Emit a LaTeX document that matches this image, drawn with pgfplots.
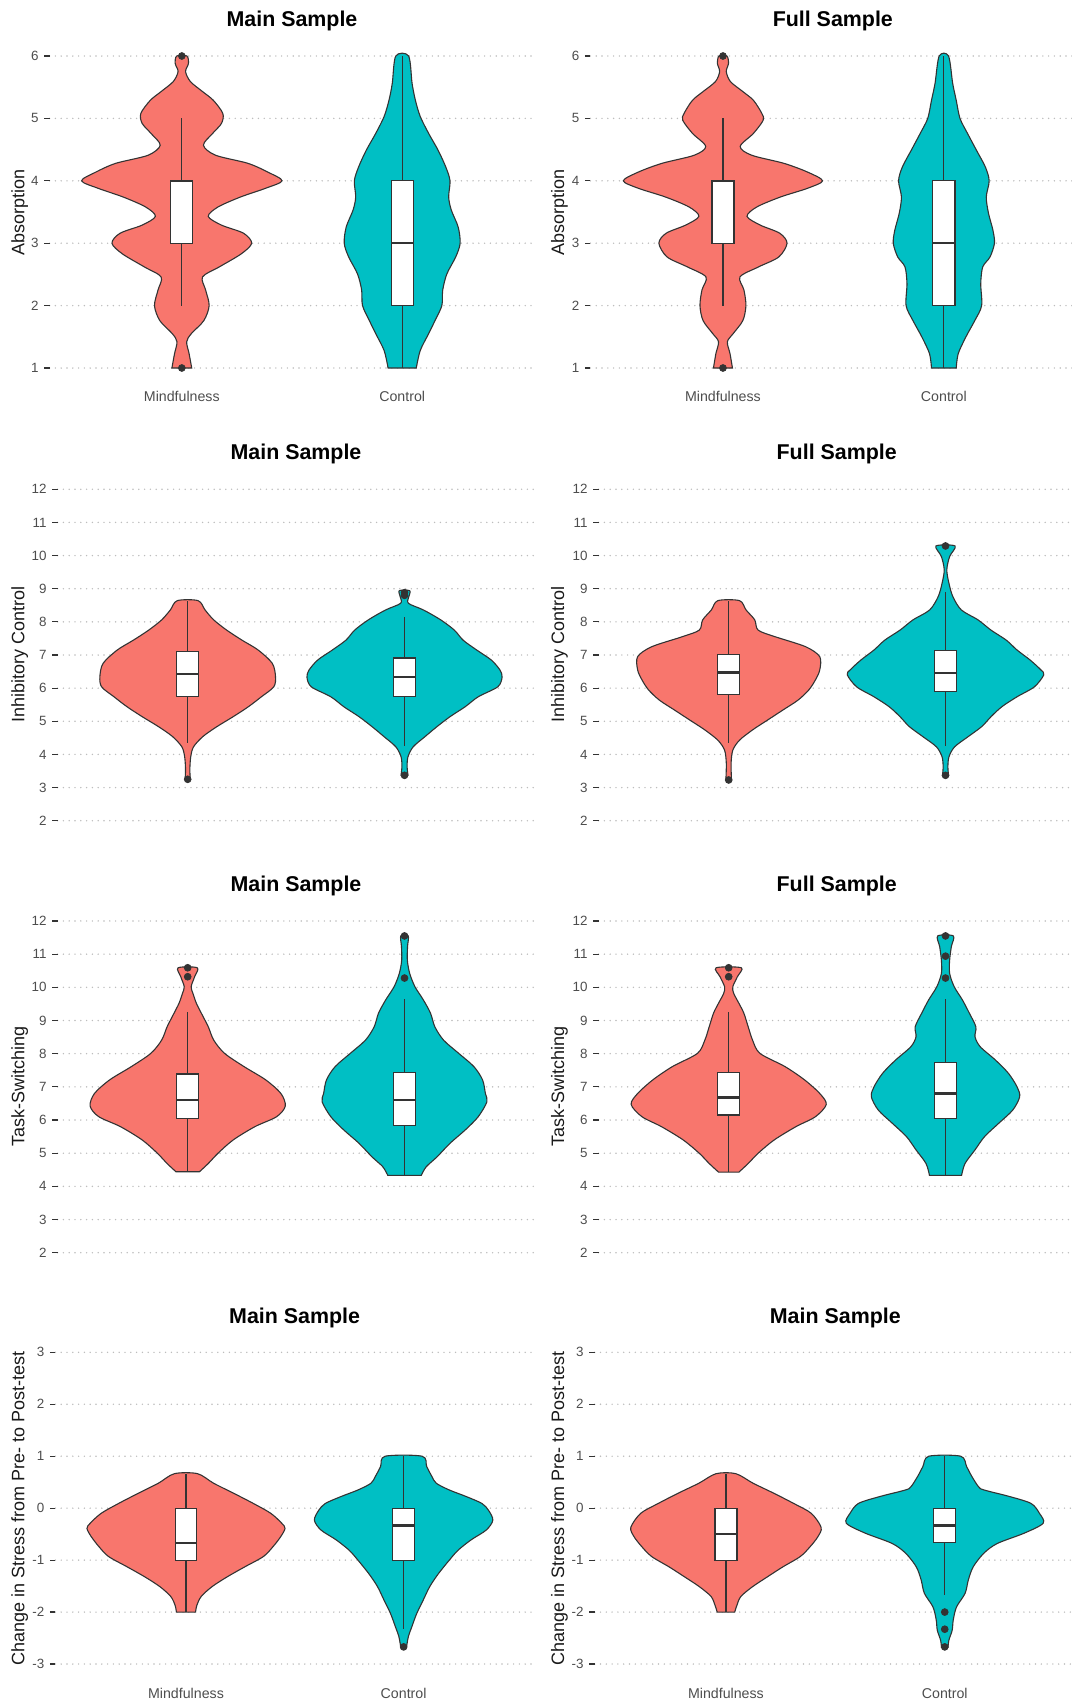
\documentclass[border=0pt]{standalone}
\usepackage{fontspec}
\setmainfont{Liberation Sans}
\usepackage{pgfplots}
\pgfplotsset{compat=1.18}
\usepackage{pgfplotstable}

\definecolor{salmon}{HTML}{F8766D}
\definecolor{tealc}{HTML}{00BFC4}
\definecolor{dark}{HTML}{333333}
\definecolor{gridc}{HTML}{BDBDBD}
\definecolor{tickc}{HTML}{4D4D4D}

% violin outlines: y, signed half-width (right side up, left side down)
\pgfplotstableread{
y s
1.00 0.045
1.23 0.033
1.42 0.022
1.55 0.043
1.76 0.100
2.00 0.124
2.25 0.108
2.46 0.094
2.62 0.170
2.83 0.270
3.00 0.317
3.16 0.280
3.29 0.180
3.43 0.120
3.58 0.164
3.74 0.266
3.88 0.380
4.00 0.455
4.14 0.390
4.28 0.300
4.41 0.153
4.57 0.098
4.76 0.140
4.92 0.180
5.08 0.186
5.29 0.143
5.43 0.094
5.59 0.039
5.75 0.017
5.88 0.030
6.00 0.023
6.00 -0.023
5.88 -0.030
5.75 -0.017
5.59 -0.039
5.43 -0.094
5.29 -0.143
5.08 -0.186
4.92 -0.180
4.76 -0.140
4.57 -0.098
4.41 -0.153
4.28 -0.300
4.14 -0.390
4.00 -0.455
3.88 -0.380
3.74 -0.266
3.58 -0.164
3.43 -0.120
3.29 -0.180
3.16 -0.280
3.00 -0.317
2.83 -0.270
2.62 -0.170
2.46 -0.094
2.25 -0.108
2.00 -0.124
1.76 -0.100
1.55 -0.043
1.42 -0.022
1.23 -0.033
1.00 -0.045
}\PaM
\pgfplotstableread{
y s
1.00 0.064
1.28 0.082
1.55 0.120
1.76 0.149
2.00 0.180
2.25 0.184
2.51 0.203
2.78 0.243
3.00 0.263
3.26 0.254
3.53 0.223
3.74 0.211
4.00 0.217
4.22 0.198
4.49 0.163
4.76 0.120
5.03 0.082
5.29 0.060
5.56 0.045
6.00 0.029
6.00 -0.029
5.56 -0.045
5.29 -0.060
5.03 -0.082
4.76 -0.120
4.49 -0.163
4.22 -0.198
4.00 -0.217
3.74 -0.211
3.53 -0.223
3.26 -0.254
3.00 -0.263
2.78 -0.243
2.51 -0.203
2.25 -0.184
2.00 -0.180
1.76 -0.149
1.55 -0.120
1.28 -0.082
1.00 -0.064
}\PaC
\pgfplotstableread{
y s
1.00 0.043
1.23 0.032
1.42 0.020
1.55 0.046
1.76 0.090
2.00 0.104
2.25 0.095
2.46 0.077
2.62 0.161
2.78 0.253
3.00 0.290
3.16 0.257
3.29 0.169
3.43 0.109
3.58 0.153
3.74 0.260
3.88 0.383
4.00 0.451
4.14 0.383
4.28 0.276
4.41 0.130
4.55 0.078
4.76 0.138
4.97 0.182
5.08 0.176
5.29 0.138
5.43 0.090
5.59 0.034
5.75 0.015
5.88 0.025
6.00 0.018
6.00 -0.018
5.88 -0.025
5.75 -0.015
5.59 -0.034
5.43 -0.090
5.29 -0.138
5.08 -0.176
4.97 -0.182
4.76 -0.138
4.55 -0.078
4.41 -0.130
4.28 -0.276
4.14 -0.383
4.00 -0.451
3.88 -0.383
3.74 -0.260
3.58 -0.153
3.43 -0.109
3.29 -0.169
3.16 -0.257
3.00 -0.290
2.78 -0.253
2.62 -0.161
2.46 -0.077
2.25 -0.095
2.00 -0.104
1.76 -0.090
1.55 -0.046
1.42 -0.020
1.23 -0.032
1.00 -0.043
}\PbM
\pgfplotstableread{
y s
1.00 0.056
1.23 0.065
1.50 0.100
1.76 0.140
2.00 0.171
2.35 0.167
2.62 0.176
2.78 0.209
3.00 0.229
3.21 0.222
3.48 0.202
3.74 0.192
4.00 0.205
4.22 0.188
4.50 0.146
4.76 0.107
5.00 0.073
5.29 0.056
5.56 0.040
6.00 0.021
6.00 -0.021
5.56 -0.040
5.29 -0.056
5.00 -0.073
4.76 -0.107
4.50 -0.146
4.22 -0.188
4.00 -0.205
3.74 -0.192
3.48 -0.202
3.21 -0.222
3.00 -0.229
2.78 -0.209
2.62 -0.176
2.35 -0.167
2.00 -0.171
1.76 -0.140
1.50 -0.100
1.23 -0.065
1.00 -0.056
}\PbC
\pgfplotstableread{
y s
3.25 0.012
3.55 0.010
3.93 0.014
4.23 0.027
4.54 0.070
4.84 0.135
5.14 0.210
5.44 0.280
5.74 0.340
6.04 0.397
6.35 0.405
6.75 0.390
7.15 0.325
7.45 0.250
7.75 0.180
8.06 0.120
8.36 0.080
8.64 0.048
8.64 -0.048
8.36 -0.080
8.06 -0.120
7.75 -0.180
7.45 -0.250
7.15 -0.325
6.75 -0.390
6.35 -0.405
6.04 -0.397
5.74 -0.340
5.44 -0.280
5.14 -0.210
4.84 -0.135
4.54 -0.070
4.23 -0.027
3.93 -0.014
3.55 -0.010
3.25 -0.012
}\PcM
\pgfplotstableread{
y s
3.38 0.016
3.63 0.012
3.93 0.016
4.23 0.040
4.54 0.095
4.84 0.150
5.14 0.210
5.44 0.280
5.74 0.340
6.04 0.430
6.33 0.450
6.55 0.440
6.85 0.400
7.15 0.333
7.45 0.270
7.75 0.230
8.06 0.167
8.36 0.087
8.56 0.018
8.76 0.020
8.94 0.024
8.94 -0.024
8.76 -0.020
8.56 -0.018
8.36 -0.087
8.06 -0.167
7.75 -0.230
7.45 -0.270
7.15 -0.333
6.85 -0.400
6.55 -0.440
6.33 -0.450
6.04 -0.430
5.74 -0.340
5.44 -0.280
5.14 -0.210
4.84 -0.150
4.54 -0.095
4.23 -0.040
3.93 -0.016
3.63 -0.012
3.38 -0.016
}\PcC
\pgfplotstableread{
y s
3.23 0.013
3.73 0.011
4.13 0.019
4.43 0.050
4.74 0.110
5.04 0.180
5.34 0.250
5.64 0.320
5.95 0.370
6.25 0.400
6.55 0.420
6.95 0.420
7.25 0.355
7.55 0.215
7.75 0.136
8.06 0.120
8.36 0.080
8.64 0.050
8.64 -0.050
8.36 -0.080
8.06 -0.120
7.75 -0.136
7.55 -0.215
7.25 -0.355
6.95 -0.420
6.55 -0.420
6.25 -0.400
5.95 -0.370
5.64 -0.320
5.34 -0.250
5.04 -0.180
4.74 -0.110
4.43 -0.050
4.13 -0.019
3.73 -0.011
3.23 -0.013
}\PdM
\pgfplotstableread{
y s
3.37 0.014
3.63 0.011
3.93 0.016
4.23 0.042
4.54 0.105
4.84 0.167
5.14 0.210
5.44 0.260
5.74 0.330
6.04 0.410
6.40 0.453
6.55 0.440
6.85 0.390
7.15 0.330
7.45 0.280
7.75 0.210
8.06 0.150
8.36 0.073
8.76 0.034
9.16 0.016
9.57 0.006
9.97 0.019
10.29 0.044
10.29 -0.044
9.97 -0.019
9.57 -0.006
9.16 -0.016
8.76 -0.034
8.36 -0.073
8.06 -0.150
7.75 -0.210
7.45 -0.280
7.15 -0.330
6.85 -0.390
6.55 -0.440
6.40 -0.453
6.04 -0.410
5.74 -0.330
5.44 -0.260
5.14 -0.210
4.84 -0.167
4.54 -0.105
4.23 -0.042
3.93 -0.016
3.63 -0.011
3.37 -0.014
}\PdC
\pgfplotstableread{
y s
4.44 0.054
4.69 0.095
5.00 0.140
5.40 0.210
5.80 0.310
6.10 0.410
6.42 0.450
6.80 0.430
7.21 0.360
7.61 0.260
8.01 0.170
8.41 0.120
8.81 0.095
9.22 0.063
9.52 0.040
9.82 0.024
10.02 0.016
10.32 0.032
10.59 0.044
10.59 -0.044
10.32 -0.032
10.02 -0.016
9.82 -0.024
9.52 -0.040
9.22 -0.063
8.81 -0.095
8.41 -0.120
8.01 -0.170
7.61 -0.260
7.21 -0.360
6.80 -0.430
6.42 -0.450
6.10 -0.410
5.80 -0.310
5.40 -0.210
5.00 -0.140
4.69 -0.095
4.44 -0.054
}\PeM
\pgfplotstableread{
y s
4.33 0.077
4.59 0.100
4.89 0.150
5.30 0.210
5.70 0.280
6.10 0.340
6.55 0.380
6.80 0.373
7.21 0.360
7.61 0.320
8.01 0.250
8.41 0.180
8.81 0.140
9.22 0.120
9.62 0.087
10.02 0.048
10.42 0.024
10.82 0.013
11.23 0.014
11.55 0.017
11.55 -0.017
11.23 -0.014
10.82 -0.013
10.42 -0.024
10.02 -0.048
9.62 -0.087
9.22 -0.120
8.81 -0.140
8.41 -0.180
8.01 -0.250
7.61 -0.320
7.21 -0.360
6.80 -0.373
6.55 -0.380
6.10 -0.340
5.70 -0.280
5.30 -0.210
4.89 -0.150
4.59 -0.100
4.33 -0.077
}\PeC
\pgfplotstableread{
y s
4.43 0.047
4.69 0.090
5.00 0.136
5.40 0.210
5.80 0.310
6.10 0.400
6.47 0.450
6.80 0.420
7.21 0.350
7.61 0.260
8.01 0.144
8.41 0.110
8.81 0.090
9.22 0.070
9.52 0.047
9.82 0.023
10.02 0.019
10.32 0.040
10.59 0.058
10.59 -0.058
10.32 -0.040
10.02 -0.019
9.82 -0.023
9.52 -0.047
9.22 -0.070
8.81 -0.090
8.41 -0.110
8.01 -0.144
7.61 -0.260
7.21 -0.350
6.80 -0.420
6.47 -0.450
6.10 -0.400
5.80 -0.310
5.40 -0.210
5.00 -0.136
4.69 -0.090
4.43 -0.047
}\PfM
\pgfplotstableread{
y s
4.33 0.074
4.69 0.090
5.10 0.136
5.50 0.180
5.90 0.245
6.30 0.310
6.70 0.342
7.00 0.330
7.41 0.290
7.81 0.230
8.21 0.160
8.51 0.136
8.81 0.140
9.22 0.110
9.62 0.078
10.02 0.040
10.42 0.019
10.82 0.019
11.23 0.027
11.55 0.036
11.55 -0.036
11.23 -0.027
10.82 -0.019
10.42 -0.019
10.02 -0.040
9.62 -0.078
9.22 -0.110
8.81 -0.140
8.51 -0.136
8.21 -0.160
7.81 -0.230
7.41 -0.290
7.00 -0.330
6.70 -0.342
6.30 -0.310
5.90 -0.245
5.50 -0.180
5.10 -0.136
4.69 -0.090
4.33 -0.074
}\PfC
\pgfplotstableread{
y s
-2.00 0.044
-1.87 0.050
-1.70 0.070
-1.51 0.120
-1.32 0.190
-1.13 0.270
-0.93 0.356
-0.74 0.400
-0.55 0.435
-0.39 0.455
-0.29 0.440
-0.10 0.390
0.09 0.310
0.285 0.220
0.48 0.127
0.664 0.053
0.664 -0.053
0.48 -0.127
0.285 -0.220
0.09 -0.310
-0.10 -0.390
-0.29 -0.440
-0.39 -0.455
-0.55 -0.435
-0.74 -0.400
-0.93 -0.356
-1.13 -0.270
-1.32 -0.190
-1.51 -0.120
-1.70 -0.070
-1.87 -0.050
-2.00 -0.044
}\PgM
\pgfplotstableread{
y s
-2.68 0.013
-2.47 0.022
-2.28 0.038
-2.03 0.060
-1.77 0.090
-1.51 0.120
-1.26 0.160
-1.00 0.210
-0.81 0.250
-0.61 0.310
-0.42 0.380
-0.23 0.410
-0.04 0.390
0.09 0.360
0.22 0.290
0.35 0.210
0.48 0.150
0.61 0.130
0.80 0.106
1.00 0.085
1.00 -0.085
0.80 -0.106
0.61 -0.130
0.48 -0.150
0.35 -0.210
0.22 -0.290
0.09 -0.360
-0.04 -0.390
-0.23 -0.410
-0.42 -0.380
-0.61 -0.310
-0.81 -0.250
-1.00 -0.210
-1.26 -0.160
-1.51 -0.120
-1.77 -0.090
-2.03 -0.060
-2.28 -0.038
-2.47 -0.022
-2.68 -0.013
}\PgC
\pgfplotstableread{
y s
-2.00 0.040
-1.87 0.050
-1.70 0.068
-1.51 0.122
-1.32 0.190
-1.13 0.260
-0.93 0.340
-0.74 0.385
-0.55 0.420
-0.37 0.435
-0.10 0.390
0.09 0.310
0.285 0.220
0.48 0.124
0.664 0.045
0.664 -0.045
0.48 -0.124
0.285 -0.220
0.09 -0.310
-0.10 -0.390
-0.37 -0.435
-0.55 -0.420
-0.74 -0.385
-0.93 -0.340
-1.13 -0.260
-1.32 -0.190
-1.51 -0.122
-1.70 -0.068
-1.87 -0.050
-2.00 -0.040
}\PhM
\pgfplotstableread{
y s
-2.68 0.015
-2.54 0.019
-2.35 0.034
-2.15 0.039
-1.90 0.054
-1.64 0.093
-1.38 0.108
-1.13 0.130
-0.87 0.178
-0.68 0.240
-0.48 0.364
-0.29 0.450
-0.10 0.433
0.09 0.395
0.22 0.300
0.35 0.180
0.41 0.155
0.61 0.124
0.80 0.100
1.00 0.073
1.00 -0.073
0.80 -0.100
0.61 -0.124
0.41 -0.155
0.35 -0.180
0.22 -0.300
0.09 -0.395
-0.10 -0.433
-0.29 -0.450
-0.48 -0.364
-0.68 -0.240
-0.87 -0.178
-1.13 -0.130
-1.38 -0.108
-1.64 -0.093
-1.90 -0.054
-2.15 -0.039
-2.35 -0.034
-2.54 -0.019
-2.68 -0.015
}\PhC

% #1 table, #2 centre, #3 colour
\newcommand{\violin}[3]{%
  \addplot[fill=#3, draw=dark, line width=0.55pt, smooth, tension=0.5]
    table[x expr=#2+\thisrow{s}, y=y]{#1} -- cycle;
}
% #1 left, #2 centre, #3 right, #4 lower whisker, #5 q1, #6 median, #7 q3, #8 upper whisker
\newcommand{\bx}[8]{%
  \addplot[draw=dark, line width=0.6pt] coordinates {(#2,#4) (#2,#5)};
  \addplot[draw=dark, line width=0.6pt] coordinates {(#2,#7) (#2,#8)};
  \addplot[draw=dark, fill=white, line width=0.6pt]
    coordinates {(#1,#5) (#3,#5) (#3,#7) (#1,#7)} -- cycle;
  \addplot[draw=dark, line width=1.25pt] coordinates {(#1,#6) (#3,#6)};
}
\newcommand{\outl}[1]{%
  \addplot[only marks, mark=*, mark size=1.7pt, draw=dark, fill=dark] coordinates {#1};
}

\pgfplotsset{
  vio/.style={
    scale only axis, anchor=south west,
    xmin=0.4, xmax=2.6,
    axis line style={draw=none},
    ymajorgrids,
    grid style={draw=gridc, line width=0.8pt, line cap=round, dash pattern=on 0pt off 2.9pt},
    tick align=outside, major tick length=2.8pt,
    ytick pos=left,
    ytick style={draw=dark, line width=0.6pt},
    xtick style={draw=none},
    yticklabel style={font=\fontsize{6.7}{8}\selectfont, text=tickc, xshift=0.8pt},
    xticklabel style={font=\fontsize{7.1}{8}\selectfont, text=tickc, anchor=base},
  },
}

\begin{document}
\begin{tikzpicture}
\useasboundingbox (0,0) rectangle (535.5pt,-851pt);

% ===== Row 1 =====
\begin{axis}[vio, at={(24.8pt,-191.8pt)}, width=242.4pt, height=171.6pt,
  ymin=0.75, ymax=6.25,
  ytick={1,2,3,4,5,6}, yticklabels={1,2,3,4,5,6},
  xtick={1,2}, xticklabels={Mindfulness,Control},
  xticklabel style={yshift=-6.2pt}]
\violin{\PaM}{1}{salmon}
\violin{\PaC}{2}{tealc}
\bx{0.95}{1}{1.05}{2}{3}{4}{4}{5}
\bx{1.95}{2}{2.05}{1}{2}{3}{4}{6}
\outl{(1,1) (1,6)}
\end{axis}

\begin{axis}[vio, at={(295.2pt,-191.8pt)}, width=243pt, height=171.6pt,
  ymin=0.75, ymax=6.25,
  ytick={1,2,3,4,5,6}, yticklabels={1,2,3,4,5,6},
  xtick={1,2}, xticklabels={Mindfulness,Control},
  xticklabel style={yshift=-6.2pt}]
\violin{\PbM}{1}{salmon}
\violin{\PbC}{2}{tealc}
\bx{0.95}{1}{1.05}{2}{3}{4}{4}{5}
\bx{1.95}{2}{2.05}{1}{2}{3}{4}{6}
\outl{(1,1) (1,6)}
\end{axis}

% ===== Row 2 =====
\begin{axis}[vio, at={(28.8pt,-418.65pt)}, width=238.5pt, height=182.3pt,
  ymin=1.5, ymax=12.5,
  ytick={2,3,4,5,6,7,8,9,10,11,12}, yticklabels={2,3,4,5,6,7,8,9,10,11,12},
  xtick=\empty]
\violin{\PcM}{1}{salmon}
\violin{\PcC}{2}{tealc}
\bx{0.95}{1}{1.05}{4.35}{5.76}{6.43}{7.10}{8.64}
\bx{1.95}{2}{2.05}{4.25}{5.74}{6.33}{6.91}{8.16}
\outl{(1,3.25) (2,3.37) (2,8.80) (2,8.88)}
\end{axis}

\begin{axis}[vio, at={(299.3pt,-418.65pt)}, width=238.5pt, height=182.3pt,
  ymin=1.5, ymax=12.5,
  ytick={2,3,4,5,6,7,8,9,10,11,12}, yticklabels={2,3,4,5,6,7,8,9,10,11,12},
  xtick=\empty]
\violin{\PdM}{1}{salmon}
\violin{\PdC}{2}{tealc}
\bx{0.95}{1}{1.05}{4.35}{5.82}{6.47}{7.02}{8.64}
\bx{1.95}{2}{2.05}{4.25}{5.90}{6.45}{7.13}{8.91}
\outl{(1,3.23) (2,3.37) (2,10.29)}
\end{axis}

% ===== Row 3 =====
\begin{axis}[vio, at={(28.8pt,-634.65pt)}, width=238.5pt, height=182.45pt,
  ymin=1.5, ymax=12.5,
  ytick={2,3,4,5,6,7,8,9,10,11,12}, yticklabels={2,3,4,5,6,7,8,9,10,11,12},
  xtick=\empty]
\violin{\PeM}{1}{salmon}
\violin{\PeC}{2}{tealc}
\bx{0.95}{1}{1.05}{4.44}{6.05}{6.60}{7.39}{9.27}
\bx{1.95}{2}{2.05}{4.33}{5.83}{6.60}{7.43}{9.64}
\outl{(1,10.32) (1,10.59) (2,10.28) (2,11.55)}
\end{axis}

\begin{axis}[vio, at={(299.3pt,-634.65pt)}, width=238.5pt, height=182.45pt,
  ymin=1.5, ymax=12.5,
  ytick={2,3,4,5,6,7,8,9,10,11,12}, yticklabels={2,3,4,5,6,7,8,9,10,11,12},
  xtick=\empty]
\violin{\PfM}{1}{salmon}
\violin{\PfC}{2}{tealc}
\bx{0.95}{1}{1.05}{4.43}{6.15}{6.68}{7.44}{9.27}
\bx{1.95}{2}{2.05}{4.33}{6.05}{6.80}{7.74}{9.64}
\outl{(1,10.32) (1,10.59) (2,10.28) (2,10.94) (2,11.55)}
\end{axis}

% ===== Row 4 =====
\begin{axis}[vio, at={(27.7pt,-839.8pt)}, width=239.4pt, height=171.45pt,
  ymin=-3.3, ymax=3.3,
  ytick={-3,-2,-1,0,1,2,3}, yticklabels={-3,-2,-1,0,1,2,3},
  xtick={1,2}, xticklabels={Mindfulness,Control},
  xticklabel style={yshift=-6.55pt}]
\violin{\PgM}{1}{salmon}
\violin{\PgC}{2}{tealc}
\bx{0.95}{1}{1.05}{-2}{-1}{-0.667}{0}{0.667}
\bx{1.95}{2}{2.05}{-2.33}{-1}{-0.333}{0}{1}
\outl{(2,-2.67)}
\end{axis}

\begin{axis}[vio, at={(297.35pt,-839.8pt)}, width=240.65pt, height=171.45pt,
  ymin=-3.3, ymax=3.3,
  ytick={-3,-2,-1,0,1,2,3}, yticklabels={-3,-2,-1,0,1,2,3},
  xtick={1,2}, xticklabels={Mindfulness,Control},
  xticklabel style={yshift=-6.55pt}]
\violin{\PhM}{1}{salmon}
\violin{\PhC}{2}{tealc}
\bx{0.95}{1}{1.05}{-2}{-1}{-0.5}{0}{0.667}
\bx{1.95}{2}{2.05}{-1.67}{-0.667}{-0.333}{0}{1}
\outl{(2,-2) (2,-2.33) (2,-2.67)}
\end{axis}

% ===== titles =====
\begin{scope}[every node/.style={anchor=base, font=\fontsize{10.7}{12}\selectfont\bfseries}]
\node at (146pt,-13.35pt) {Main Sample};
\node at (416.4pt,-13.35pt) {Full Sample};
\node at (148pt,-229.65pt) {Main Sample};
\node at (418.35pt,-229.65pt) {Full Sample};
\node at (148pt,-445.85pt) {Main Sample};
\node at (418.35pt,-445.85pt) {Full Sample};
\node at (147.3pt,-661.65pt) {Main Sample};
\node at (417.65pt,-661.65pt) {Main Sample};
\end{scope}

% ===== y labels =====
\begin{scope}[every node/.style={rotate=90, font=\fontsize{9}{10}\selectfont, text=black!90}]
\node at (9.9pt,-106.25pt) {Absorption};
\node at (279.75pt,-106.25pt) {Absorption};
\node at (9.9pt,-327.35pt) {Inhibitory Control};
\node at (279.75pt,-327.35pt) {Inhibitory Control};
\node at (9.9pt,-543.35pt) {Task-Switching};
\node at (279.75pt,-543.35pt) {Task-Switching};
\node at (9.9pt,-754.15pt) {Change in Stress from Pre- to Post-test};
\node at (279.75pt,-754.15pt) {Change in Stress from Pre- to Post-test};
\end{scope}
\end{tikzpicture}
\end{document}
